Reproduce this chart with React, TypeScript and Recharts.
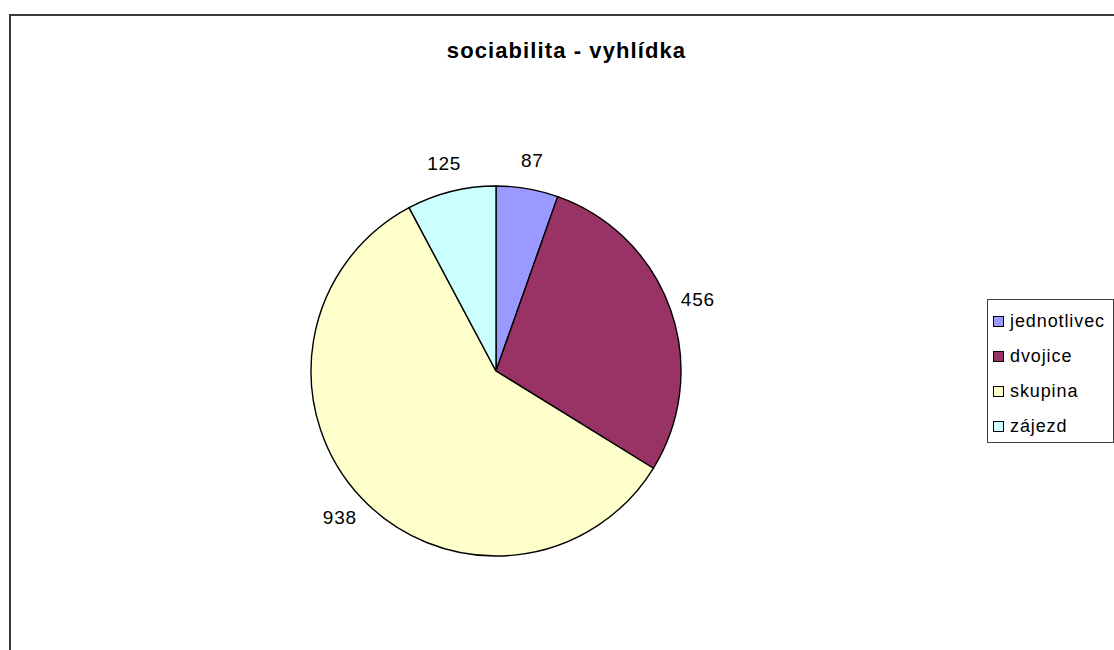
import React from "react";
import { PieChart, Pie, Cell, Legend } from "recharts";

const categories = ["jednotlivec", "dvojice", "skupina", "zájezd"];
const values = [87, 456, 938, 125];
const colors = ["#9999FF", "#993366", "#FFFFCC", "#CCFFFF"];
const title = "sociabilita - vyhlídka";

const data = categories.map((name, i) => ({ name, value: values[i] }));
const RAD = Math.PI / 180;
const FONT = "'Liberation Sans', Arial, sans-serif";

const renderLabel = (props: any) => {
  const { cx, cy, midAngle, outerRadius, value } = props;
  const r = outerRadius + 29;
  const x = cx + r * Math.cos(-midAngle * RAD);
  const y = cy + r * Math.sin(-midAngle * RAD);
  return (
    <text
      x={x}
      y={y}
      textAnchor="middle"
      dominantBaseline="central"
      fill="#000"
      fontSize={19}
      letterSpacing={0.8}
      fontFamily={FONT}
    >
      {value}
    </text>
  );
};

const LegendBox = () => {
  return (
    <div
      style={{
        border: "1px solid #404040",
        width: 127,
        height: 144,
        boxSizing: "border-box",
        background: "#fff",
        fontFamily: FONT,
        fontSize: 18,
        letterSpacing: 0.9,
        paddingTop: 4,
      }}
    >
      {categories.map((name, i) => (
        <div
          key={name}
          style={{ display: "flex", alignItems: "center", height: 35, paddingLeft: 5 }}
        >
          <span
            style={{
              display: "inline-block",
              width: 9,
              height: 9,
              border: "1px solid #000",
              background: colors[i],
              marginRight: 6,
              flexShrink: 0,
            }}
          />
          <span style={{ color: "#000", whiteSpace: "nowrap" }}>{name}</span>
        </div>
      ))}
    </div>
  );
};

export default function App() {
  return (
    <div
      style={{
        position: "absolute",
        left: 0,
        top: 0,
        width: 1114,
        height: 650,
        overflow: "hidden",
        background: "#fff",
      }}
    >
      <div
        style={{
          position: "absolute",
          left: 9,
          top: 14,
          width: 1130,
          height: 700,
          border: "2px solid #3a3a3a",
        }}
      />
      <div
        style={{
          position: "absolute",
          left: 0,
          top: 38,
          width: 1133,
          textAlign: "center",
          fontFamily: FONT,
          fontWeight: "bold",
          fontSize: 22,
          letterSpacing: 1.1,
          color: "#000",
        }}
      >
        {title}
      </div>
      <div style={{ position: "absolute", left: 0, top: 0 }}>
        <PieChart width={1114} height={650}>
          <Pie
            data={data}
            dataKey="value"
            nameKey="name"
            cx={491}
            cy={366}
            outerRadius={185}
            startAngle={90}
            endAngle={-270}
            stroke="#000"
            strokeWidth={1.4}
            label={renderLabel}
            labelLine={false}
            isAnimationActive={false}
          >
            {data.map((d, i) => (
              <Cell key={d.name} fill={colors[i]} />
            ))}
          </Pie>
          <Legend
            content={<LegendBox />}
            layout="vertical"
            verticalAlign="top"
            align="right"
            wrapperStyle={{ position: "absolute", left: 987, top: 299, width: 127 }}
          />
        </PieChart>
      </div>
    </div>
  );
}
